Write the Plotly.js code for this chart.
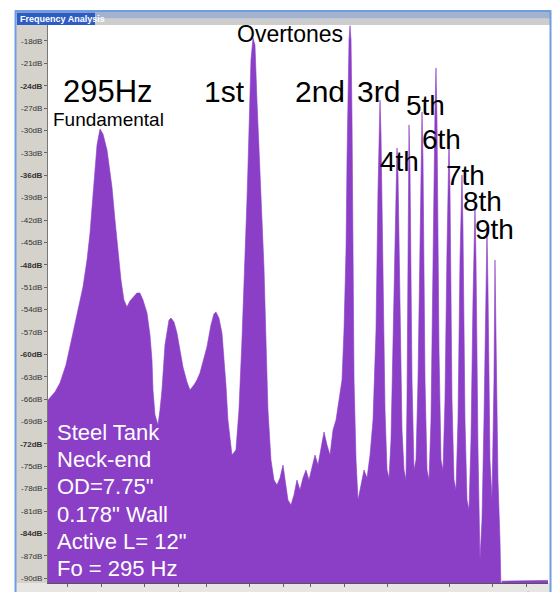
<!DOCTYPE html>
<html>
<head>
<meta charset="utf-8">
<script src="https://cdn.plot.ly/plotly-3.0.1.min.js"></script>
<style>
html,body{margin:0;padding:0;background:#fff;}
#chart{width:552px;height:592px;}
</style>
</head>
<body>
<div id="chart"></div>
<script>
// Spectrum: frequency (Hz) and level (dB)
const freqHz = [
 210.9,220.9,228.3,237.5,248.8,257.2,265.8,273.0,278.5,284.1,287.9,291.7,297.5,303.4,311.6,317.8,322.0,328.5,335.1,341.8,
 348.5,355.6,362.7,370.0,379.9,387.5,395.4,406.0,414.1,419.6,422.4,428.1,436.6,442.4,448.3,457.3,463.4,469.6,475.8,485.4,
 495.1,505.0,515.1,528.9,539.5,553.9,565.0,576.4,591.8,603.6,619.8,632.2,640.6,653.4,666.8,675.6,684.6,693.6,712.3,731.4,
 746.1,761.1,776.3,786.7,791.9,802.5,807.8,818.6,829.5,840.4,857.3,868.7,880.3,892.1,903.9,922.1,940.6,959.5,978.8,998.4,
 1011.6,1031.8,1052.5,1073.6,1095.1,1117.1,1139.5,1162.4,1185.8,1209.6,1233.8,1258.6,1283.9,1309.6,1335.9,1362.7,1390.1,1417.9,1446.4,1475.4,
 1495.0,1515.0,1525.0,1535.2,1545.4,1555.6,1566.0,1576.4,1586.9,1597.4,1618.7,1640.2,1662.1,1706.7,1741.0,1775.8,1811.3,1847.5,1872.1,1884.6,
 1897.1,1909.7,1935.1,1960.9,1987.0,2013.5,2040.3,2067.4,2094.9,2122.8,2136.9,2165.4,2194.2,2223.4,2253.0,2268.0,2283.1,2298.2,2313.5,2344.3,
 2375.5,2407.1,2439.2,2471.7,2488.1,2504.6,2521.2,2554.8,2588.8,2623.3,2658.2,2693.6,2729.5,2747.6,2765.8,2802.7,2840.0,2877.9,2916.2,2955.0,
 2994.4,3014.3,3054.4,3095.1,3136.3,3178.1,3220.4,3263.3,3285.0,3328.7,3373.0,3418.0,3463.5,3509.6,3556.3,3579.9,3627.6,3675.9,3724.8,3774.4,
 3824.7,3850.1,3875.7,3927.3,3979.6,4032.6,4059.4,4086.3,4140.7,4195.8,4223.6,4251.7,5765.0
];
const levelDb = [
 -66.12,-65.05,-63.84,-61.43,-57.14,-54.06,-50.98,-47.36,-43.74,-38.64,-34.89,-31.94,-29.80,-30.47,-32.61,-35.29,-37.57,-41.99,-46.02,-50.04,
 -52.72,-53.66,-52.85,-52.32,-51.78,-51.78,-52.72,-54.46,-57.41,-60.76,-64.78,-68.13,-69.47,-67.46,-64.78,-58.75,-56.74,-55.40,-55.13,-55.67,
 -57.14,-59.42,-61.70,-63.71,-64.78,-64.11,-63.44,-62.50,-60.49,-59.02,-56.07,-54.60,-54.33,-55.13,-57.14,-60.09,-64.11,-68.80,-73.50,-72.83,
 -67.46,-58.08,-48.29,-39.31,-34.89,-25.91,-20.55,-17.60,-18.54,-25.91,-34.89,-41.99,-48.29,-58.08,-67.46,-74.17,-76.85,-77.52,-76.58,-74.84,
 -76.85,-79.53,-80.20,-78.86,-76.85,-78.19,-76.58,-75.51,-76.85,-75.24,-73.50,-74.84,-72.83,-70.41,-72.16,-73.50,-70.14,-68.80,-66.12,-63.44,
 -56.74,-46.02,-33.95,-24.57,-17.87,-15.95,-17.87,-28.59,-46.02,-63.44,-74.17,-79.53,-78.19,-75.51,-76.58,-73.50,-68.80,-56.74,-37.97,-29.93,
 -25.91,-30.60,-48.70,-67.46,-75.51,-76.58,-71.48,-58.08,-41.99,-32.34,-35.96,-54.06,-70.14,-75.51,-76.85,-66.12,-39.31,-29.26,-35.29,-63.44,
 -75.51,-74.17,-63.44,-41.99,-32.61,-27.52,-33.95,-63.44,-75.51,-76.85,-68.80,-46.02,-27.25,-21.62,-28.59,-59.42,-74.17,-75.51,-66.12,-46.02,
 -31.27,-37.97,-66.12,-76.85,-78.19,-68.80,-47.36,-35.96,-43.33,-68.80,-79.53,-80.87,-71.48,-52.72,-39.98,-47.36,-72.83,-87.57,-82.21,-68.80,
 -52.72,-43.33,-51.38,-74.17,-79.53,-63.44,-47.36,-56.74,-76.85,-84.89,-91.50,-90.40,-90.30
];
const floorDb = [-100, -100];
const floorHz = [210.9, 5765.0];

const yTickVals = [-18,-21,-24,-27,-30,-33,-36,-39,-42,-45,-48,-51,-54,-57,-60,-63,-66,-69,-72,-75,-78,-81,-84,-87,-90];
const yTickText = ["-18dB","-21dB","<b>-24dB</b>","-27dB","-30dB","-33dB","<b>-36dB</b>","-39dB","-42dB","-45dB","<b>-48dB</b>","-51dB","-54dB","-57dB","<b>-60dB</b>","-63dB","-66dB","-69dB","<b>-72dB</b>","-75dB","-78dB","-81dB","<b>-84dB</b>","-87dB","-90dB"];
const xTickVals = [240,300,400,500,600,800,1000,1200,1500,2000,3000,4000,5000];
const xTickText = ["240Hz","300Hz","400Hz","500Hz","600Hz","800Hz","<b>1000Hz</b>","1200Hz","1500Hz","2000Hz","3000Hz","4000Hz","5000Hz"];

const peakLabels = ["1st","2nd","3rd","5th","4th","6th","7th","8th","9th"];
const infoLines = ["Steel Tank","Neck-end","OD=7.75\"","0.178\" Wall","Active L= 12\"","Fo = 295 Hz"];

const purple = '#8b3ec6';
const fontFam = '"Liberation Sans", Arial, sans-serif';

const traces = [
  {x: floorHz, y: floorDb, mode: 'lines', line: {width: 0, color: purple}, hoverinfo: 'skip', showlegend: false},
  {x: freqHz, y: levelDb, mode: 'lines', fill: 'tonexty', fillcolor: purple,
   line: {width: 0.6, color: purple}, showlegend: false}
];

// label positions (paper coords)
const peakPos = [[0.352,0.880],[0.544,0.880],[0.660,0.880],[0.754,0.855],[0.702,0.756],[0.786,0.794],[0.834,0.731],[0.868,0.683],[0.892,0.633]];
const annotations = [];
function lab(x, y, text, size, color, xanchor) {
  annotations.push({xref:'paper', yref:'paper', x:x, y:y, xanchor:xanchor||'center', yanchor:'middle',
    text:text, showarrow:false, font:{family:fontFam, size:size, color:color||'#000'}});
}
lab(0.484, 0.984, 'Overtones', 23);
lab(0.12, 0.8817, '295Hz', 31);
lab(0.12, 0.8315, 'Fundamental', 19);
peakLabels.forEach((t,i)=> lab(peakPos[i][0], peakPos[i][1], t, i<3?30:28));
infoLines.forEach((t,i)=> lab(0.014, 0.2706 - i*0.0491, t, 22, '#fff', 'left'));
lab(-0.061, 1.0115, '<b>Frequency Analysis</b>', 9, '#fff', 'left');

const shapes = [
  {type:'rect', xref:'paper', yref:'paper', x0:-0.064, x1:0, y0:-0.02, y1:1.0, fillcolor:'#d5d2cc', line:{width:0}, layer:'below'},
  {type:'rect', xref:'paper', yref:'paper', x0:-0.064, x1:1.004, y0:-0.02, y1:0, fillcolor:'#e8e6e2', line:{width:0}, layer:'below'},
  {type:'rect', xref:'paper', yref:'paper', x0:-0.064, x1:1.006, y0:1.011, y1:1.024, fillcolor:'#a3b3cf', line:{width:0}, layer:'below'},
  {type:'rect', xref:'paper', yref:'paper', x0:-0.064, x1:1.006, y0:1.0, y1:1.011, fillcolor:'#cdcdcd', line:{width:0}, layer:'below'},
  {type:'rect', xref:'paper', yref:'paper', x0:-0.062, x1:0.094, y0:1.0, y1:1.022, fillcolor:'#2d5cc4', line:{width:0}, layer:'below'},
  {type:'line', xref:'paper', yref:'paper', x0:-0.065, x1:-0.065, y0:-0.02, y1:1.026, line:{color:'#6f9de0', width:2}},
  {type:'line', xref:'paper', yref:'paper', x0:1.005, x1:1.005, y0:-0.02, y1:1.026, line:{color:'#6f9de0', width:2}},
  {type:'line', xref:'paper', yref:'paper', x0:-0.066, x1:1.006, y0:1.025, y1:1.025, line:{color:'#6f9de0', width:2}}
];

const layout = {
  width: 552, height: 592,
  margin: {l:48, r:4, t:25, b:9},
  paper_bgcolor: '#ffffff', plot_bgcolor: '#ffffff',
  showlegend: false,
  xaxis: {type:'log', range:[Math.log10(210.9), Math.log10(5765)], tickvals:xTickVals, ticktext:xTickText,
          ticks:'outside', ticklen:3, tickcolor:'#666', showgrid:false, zeroline:false,
          showline:true, linecolor:'#555', linewidth:1, tickfont:{family:fontFam, size:8, color:'#111'}, fixedrange:true},
  yaxis: {range:[-90.65, -15.86], tickvals:yTickVals, ticktext:yTickText,
          ticks:'outside', ticklen:3, tickcolor:'#666', showgrid:false, zeroline:false,
          showline:true, linecolor:'#777', linewidth:1, tickfont:{family:fontFam, size:8, color:'#333'}, fixedrange:true},
  annotations: annotations,
  shapes: shapes
};

Plotly.newPlot('chart', traces, layout, {displayModeBar:false, staticPlot:true});
</script>
</body>
</html>
